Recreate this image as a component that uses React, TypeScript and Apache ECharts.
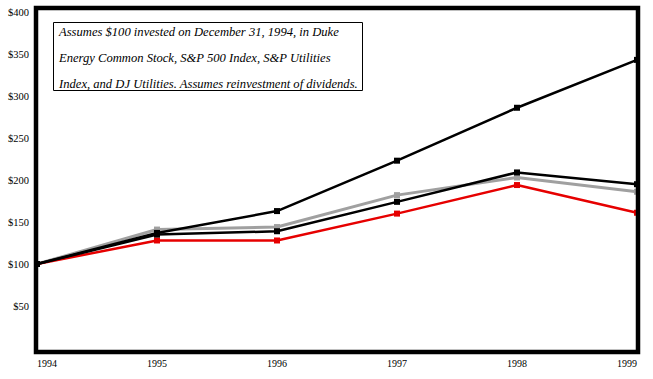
import React, { useEffect, useRef } from "react";
import * as echarts from "echarts";

const years = ["1994", "1995", "1996", "1997", "1998", "1999"];
const sp500 = [100, 137, 163, 223, 286, 343];
const dukeEnergy = [100, 135, 139, 174, 209, 195];
const spUtilities = [100, 141, 144, 182, 203, 186];
const djUtilities = [100, 128, 128, 160, 194, 161];
const yTicks = [50, 100, 150, 200, 250, 300, 350, 400];
const noteLines = [
  "Assumes $100 invested on December 31, 1994, in Duke",
  "Energy Common Stock, S&P 500 Index, S&P Utilities",
  "Index, and DJ Utilities. Assumes reinvestment of dividends.",
];

const SERIF = "Liberation Serif";

export default function App() {
  const ref = useRef<HTMLDivElement>(null);
  useEffect(() => {
    if (!ref.current) return;
    const chart = echarts.init(ref.current, null, { renderer: "svg" });
    const mkSeries = (name: string, data: number[], color: string, width: number, z: number) => ({
      name,
      type: "line",
      data,
      symbol: "rect",
      symbolSize: 6,
      z,
      lineStyle: { color, width },
      itemStyle: { color },
    });
    chart.setOption({
      animation: false,
      backgroundColor: "#ffffff",
      grid: { left: 37, right: 16, top: 12, bottom: 31 },
      xAxis: {
        type: "category",
        data: years,
        boundaryGap: false,
        axisLine: { show: false },
        axisTick: { show: false },
        splitLine: { show: false },
        axisLabel: {
          margin: 10,
          fontFamily: SERIF,
          fontSize: 10,
          color: "#000",
          alignMinLabel: "left",
          alignMaxLabel: "right",
        },
      },
      yAxis: {
        type: "value",
        min: 0,
        max: 400,
        interval: 50,
        axisLine: { show: false },
        axisTick: { show: false },
        splitLine: { show: false },
        axisLabel: {
          margin: 8,
          fontFamily: SERIF,
          fontSize: 10.5,
          color: "#000",
          formatter: (v: number) => (yTicks.includes(v) ? "$" + v : ""),
        },
      },
      series: [
        mkSeries("S&P Utilities", spUtilities, "#a0a0a0", 3, 2),
        mkSeries("DJ Utilities", djUtilities, "#e60000", 2.5, 3),
        mkSeries("Duke Energy", dukeEnergy, "#000000", 2.5, 4),
        mkSeries("S&P 500", sp500, "#000000", 2.5, 5),
      ],
      graphic: [
        {
          type: "rect",
          z: 100,
          shape: { x: 36, y: 8, width: 602, height: 344 },
          style: { fill: "none", stroke: "#000", lineWidth: 4.5 },
        },
        {
          type: "rect",
          z: 100,
          shape: { x: 53.5, y: 22.5, width: 309, height: 68 },
          style: { fill: "#fff", stroke: "#000", lineWidth: 1 },
        },
        ...noteLines.map((t, i) => ({
          type: "text",
          z: 101,
          x: 59,
          y: 32 + i * 26,
          style: {
            text: t,
            fontFamily: SERIF,
            fontStyle: "italic",
            fontSize: 12.6,
            fill: "#000",
            textVerticalAlign: "middle",
            textAlign: "left",
          },
        })),
      ],
    });
    return () => chart.dispose();
  }, []);
  return <div ref={ref} style={{ width: 653, height: 379, position: "absolute", left: 0, top: 0 }} />;
}
